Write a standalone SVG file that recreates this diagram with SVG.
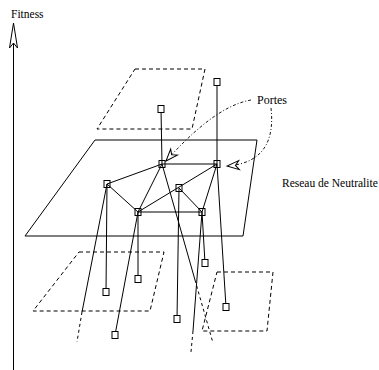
<svg xmlns="http://www.w3.org/2000/svg" width="379" height="370" viewBox="0 0 379 370">
<style>
  .ln{stroke:#000;stroke-width:1;fill:none}
  .pl{stroke:#000;stroke-width:1;fill:none}
  .dp{stroke:#000;stroke-width:1;fill:none;stroke-dasharray:4,3}
  .hid{stroke:#000;stroke-width:1;fill:none;stroke-dasharray:3,3}
  .dd{stroke:#000;stroke-width:0.9;fill:none;stroke-dasharray:3,2,1,2}
  .nb{stroke:#000;stroke-width:1;fill:none}
  .nw{stroke:#000;stroke-width:1;fill:#fff}
  text{font-family:"Liberation Serif","Times New Roman",serif;fill:#000}
</style>
<defs>
  <marker id="fin" markerUnits="userSpaceOnUse" orient="auto" viewBox="-14 -6 15 12" refX="0" refY="0" markerWidth="15" markerHeight="12">
    <path d="M0,0 L-12,-4.5 L-8.5,0 L-12,4.5 Z" fill="#fff" stroke="#000" stroke-width="1"/>
  </marker>
</defs>
<rect width="379" height="370" fill="#fff"/>

<g id="axis">
  <line class="ln" x1="13.5" y1="43" x2="13.5" y2="370"/>
  <path d="M13.5,23 L9.5,48 L13.5,43 L17.5,48 Z" fill="#fff" stroke="#000" stroke-width="1"/>
  <text x="11" y="18" font-size="11.5">Fitness</text>
</g>

<g id="planes">
  <polygon class="dp" points="135,69 205,69 192,129 97,129"/>
  <polygon class="pl" points="95,140 257,140 243,236 25,236"/>
  <polygon class="dp" points="79,252 164,252 150,311 33,311"/>
  <polygon class="dp" points="217,272 273,272 267,331 202,331"/>
</g>

<g id="connectors">
  <!-- edges in the neutral plane -->
  <line class="ln" x1="162" y1="164" x2="217" y2="164"/>
  <line class="ln" x1="162" y1="164" x2="107" y2="184"/>
  <line class="ln" x1="162" y1="164" x2="138" y2="212"/>
  <line class="ln" x1="107" y1="184" x2="138" y2="212"/>
  <line class="ln" x1="138" y1="212" x2="202" y2="212"/>
  <line class="ln" x1="138" y1="212" x2="217" y2="164"/>
  <line class="ln" x1="179" y1="188" x2="202" y2="212"/>
  <line class="ln" x1="217" y1="164" x2="202" y2="212"/>
  <!-- up -->
  <line class="ln" x1="162" y1="164" x2="161" y2="109"/>
  <line class="ln" x1="217" y1="164" x2="217" y2="82"/>
  <!-- down -->
  <line class="ln" x1="107" y1="184" x2="106" y2="292"/>
  <line class="ln" x1="107" y1="184" x2="82" y2="312"/>
  <line class="hid" x1="82" y1="312" x2="77" y2="342"/>
  <line class="ln" x1="138" y1="212" x2="138" y2="279"/>
  <line class="ln" x1="138" y1="212" x2="115" y2="335"/>
  <line class="ln" x1="179" y1="188" x2="177" y2="319"/>
  <line class="ln" x1="162" y1="164" x2="195" y2="280"/>
  <line class="hid" x1="195" y1="280" x2="213" y2="343"/>
  <line class="ln" x1="202" y1="212" x2="205" y2="263"/>
  <line class="ln" x1="202" y1="212" x2="193" y2="331"/>
  <line class="hid" x1="193" y1="331" x2="191" y2="352"/>
  <line class="ln" x1="217" y1="164" x2="226" y2="307"/>
  <!-- Portes pointers -->
  <path class="dd" d="M251,100 C222,105 192,132 166,161" marker-end="url(#fin)"/>
  <path class="dd" d="M271,108 C274,135 268,163 227,166" marker-end="url(#fin)"/>
</g>

<g id="nodes">
  <rect class="nb" x="159" y="160.5" width="6" height="7"/>
  <rect class="nb" x="214" y="160.5" width="6" height="7"/>
  <rect class="nb" x="104" y="180.5" width="6" height="7"/>
  <rect class="nb" x="176" y="184.5" width="6" height="7"/>
  <rect class="nb" x="135" y="208.5" width="6" height="7"/>
  <rect class="nb" x="199" y="208.5" width="6" height="7"/>
  <rect class="nw" x="158" y="105.5" width="6" height="7"/>
  <rect class="nw" x="214" y="78.5" width="6" height="7"/>
  <rect class="nw" x="103" y="288.5" width="6" height="7"/>
  <rect class="nw" x="135" y="275.5" width="6" height="7"/>
  <rect class="nw" x="112" y="331.5" width="6" height="7"/>
  <rect class="nw" x="174" y="315.5" width="6" height="7"/>
  <rect class="nw" x="202" y="259.5" width="6" height="7"/>
  <rect class="nw" x="223" y="303.5" width="6" height="7"/>
</g>

<g id="labels">
  <text x="257" y="104" font-size="12">Portes</text>
  <text x="282" y="187" font-size="11.5">Reseau de Neutralite</text>
</g>
</svg>
